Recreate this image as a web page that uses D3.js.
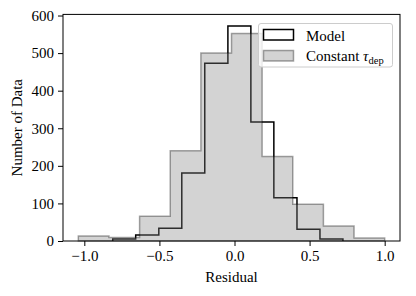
<!DOCTYPE html>
<html>
<head>
<meta charset="utf-8">
<script src="https://cdn.jsdelivr.net/npm/d3@7"></script>
<style>
  body { margin: 0; background: #fff; }
  svg text { font-family: "Liberation Serif", "DejaVu Serif", serif; fill: #000; }
</style>
</head>
<body>
<div class="chart"></div>
<script>
// histogram of residuals, two series
const xTicks = [-1.0, -0.5, 0.0, 0.5, 1.0];
const yTicks = [0, 100, 200, 300, 400, 500, 600];

// Model: step outline
const modelEdges = [-0.811, -0.658, -0.504, -0.351, -0.198, -0.044, 0.109, 0.262, 0.416, 0.569, 0.722];
const modelCounts = [5, 16, 34, 181, 473, 572, 317, 115, 31, 5];

// Constant tau_dep: filled
const constEdges = [-1.04, -0.836, -0.632, -0.428, -0.224, -0.02, 0.184, 0.388, 0.592, 0.796, 1.0];
const constCounts = [13, 9, 66, 240, 500, 552, 225, 98, 40, 8];

const svgWidth = 416, svgHeight = 296;
const margin = {left: 63, right: 16, top: 14.4, bottom: 55};

let svg = d3.select(".chart").append("svg")
    .attr("width", svgWidth)
    .attr("height", svgHeight);

const x = d3.scaleLinear()
    .domain([-1.142, 1.102])
    .range([margin.left, svgWidth - margin.right]);
const y = d3.scaleLinear()
    .domain([0, 603])
    .range([svgHeight - margin.bottom, margin.top]);

// step path for a histogram
const stepPoints = (edges, counts) => {
    let pts = [[edges[0], 0]];
    counts.forEach((c, i) => {
        pts.push([edges[i], c]);
        pts.push([edges[i + 1], c]);
    });
    pts.push([edges[edges.length - 1], 0]);
    return pts;
};
const line = d3.line().x(d => x(d[0])).y(d => y(d[1]));

// model first, grey drawn on top with alpha
svg.append("path")
    .attr("d", line(stepPoints(modelEdges, modelCounts)))
    .attr("fill", "none")
    .attr("stroke", "#000")
    .attr("stroke-width", 1.5)
    .attr("stroke-linejoin", "miter");

svg.append("path")
    .attr("d", line(stepPoints(constEdges, constCounts)) + "Z")
    .attr("fill", "gray")
    .attr("fill-opacity", 0.35)
    .attr("stroke", "#000")
    .attr("stroke-opacity", 0.35)
    .attr("stroke-width", 1.5);

// axes
const xAxis = d3.axisBottom(x).tickValues(xTicks)
    .tickFormat(d => d3.format(".1f")(d).replace("-", "\u2212"))
    .tickSizeInner(5).tickSizeOuter(0).tickPadding(4);
const yAxis = d3.axisLeft(y).tickValues(yTicks)
    .tickSizeInner(5).tickSizeOuter(0).tickPadding(4);

let gx = svg.append("g")
    .attr("transform", `translate(0,${y(0)})`)
    .call(xAxis);
let gy = svg.append("g")
    .attr("transform", `translate(${margin.left},0)`)
    .call(yAxis);
[gx, gy].forEach(g => {
    g.select(".domain").remove();
    g.selectAll(".tick line").attr("stroke", "#000").attr("stroke-width", 1);
    g.selectAll(".tick text").style("font-size", "15px").attr("fill", "#000");
});

// frame
svg.append("rect")
    .attr("x", margin.left).attr("y", margin.top)
    .attr("width", svgWidth - margin.right - margin.left)
    .attr("height", y(0) - margin.top)
    .attr("fill", "none")
    .attr("stroke", "#000")
    .attr("stroke-width", 1);

svg.append("text")
    .attr("x", (margin.left + svgWidth - margin.right) / 2)
    .attr("y", 282)
    .attr("text-anchor", "middle")
    .style("font-size", "15px")
    .text("Residual");

svg.append("text")
    .attr("transform", `translate(22,${(margin.top + y(0)) / 2}) rotate(-90)`)
    .attr("text-anchor", "middle")
    .style("font-size", "15px")
    .text("Number of Data");

// legend
let legend = svg.append("g");
legend.append("rect")
    .attr("x", 258.5).attr("y", 23.5)
    .attr("width", 134).attr("height", 43.5)
    .attr("rx", 2.5)
    .attr("fill", "#fff").attr("fill-opacity", 0.8)
    .attr("stroke", "#ccc").attr("stroke-width", 1);

legend.append("rect")
    .attr("x", 263.5).attr("y", 29.5)
    .attr("width", 30).attr("height", 10.5)
    .attr("fill", "#fff")
    .attr("stroke", "#000").attr("stroke-width", 1.5);
legend.append("text")
    .attr("x", 306).attr("y", 40.5)
    .style("font-size", "15px")
    .text("Model");

legend.append("rect")
    .attr("x", 263.5).attr("y", 50.5)
    .attr("width", 30).attr("height", 10.5)
    .attr("fill", "gray").attr("fill-opacity", 0.35)
    .attr("stroke", "#000").attr("stroke-opacity", 0.35).attr("stroke-width", 1.5);
let lt = legend.append("text")
    .attr("x", 306).attr("y", 60.5)
    .style("font-size", "15px");
lt.append("tspan").text("Constant ");
lt.append("tspan").style("font-style", "italic").text("\u03c4");
lt.append("tspan").attr("dy", 3).style("font-size", "10.5px").text("dep");
</script>
</body>
</html>
